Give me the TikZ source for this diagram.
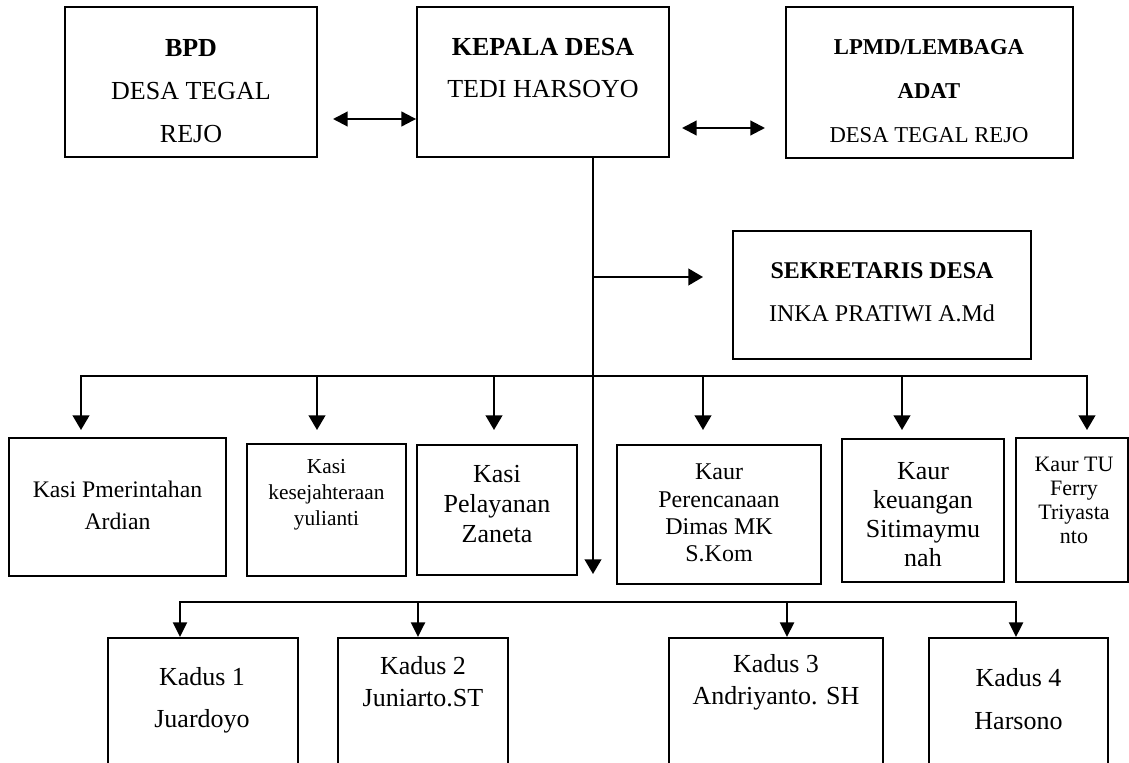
\documentclass[tikz,border=0pt]{standalone}
\usepackage{fontspec}
\setmainfont{Liberation Serif}
\usetikzlibrary{arrows.meta,fit}
\begin{document}
\begin{tikzpicture}[x=0.75pt,y=-0.75pt,
 box/.style={draw,line width=1.4pt,inner sep=0pt,rectangle},
 conn/.style={line width=1.6pt},
 bar/.style={conn,line cap=rect},
 arr/.style={conn,-{Triangle[length=11pt,width=12.5pt]}},
 sarr/.style={conn,-{Triangle[length=11pt,width=10.5pt]}},
 darr/.style={conn,{Triangle[length=11pt,width=11pt]}-{Triangle[length=11pt,width=11pt]}},
 lbl/.style={align=center,inner sep=0pt}]
\useasboundingbox (0,0) rectangle (1129,763);
\clip (0,0) rectangle (1129,763);

% top row
\node[box,fit={(65,7)(317,157)}] (bpd) {};
\node[lbl,font=\fontsize{19.5}{32}\selectfont] (bpdT) at (191,91) {\textbf{BPD}\\DESA TEGAL\\REJO};
\node[box,fit={(417,7)(669,157)}] (kep) {};
\node[lbl,font=\fontsize{19.5}{31}\selectfont] (kepT) at (543,68) {\textbf{KEPALA DESA}\\TEDI HARSOYO};
\node[box,fit={(786,7)(1073,158)}] (lpmd) {};
\node[lbl,font=\fontsize{17}{33}\selectfont] (lpmdT) at (929,91) {\textbf{LPMD/LEMBAGA}\\\textbf{ADAT}\\DESA TEGAL REJO};

% sekretaris
\node[box,fit={(733,231)(1031,359)}] (sek) {};
\node[lbl,font=\fontsize{18}{32}\selectfont] (sekT) at (882,292) {\textbf{SEKRETARIS DESA}\\INKA PRATIWI A.Md};

% middle row
\node[box,fit={(9,438)(226,576)}] (k1) {};
\node[lbl,font=\fontsize{17.8}{24}\selectfont] (k1T) at (117.5,505) {Kasi Pmerintahan\\Ardian};
\node[box,fit={(247,444)(406,576)}] (k2) {};
\node[lbl,font=\fontsize{16}{19.5}\selectfont] (k2T) at (326.5,495) {Kasi\\kesejahteraan\\yulianti};
\node[box,fit={(417,445)(577,575)}] (k3) {};
\node[lbl,font=\fontsize{19.5}{22.5}\selectfont] (k3T) at (497,504) {Kasi\\Pelayanan\\Zaneta};
\node[box,fit={(617,445)(821,584)}] (k4) {};
\node[lbl,font=\fontsize{18}{20.5}\selectfont] (k4T) at (719,513) {Kaur\\Perencanaan\\Dimas MK\\S.Kom};
\node[box,fit={(842,439)(1004,582)}] (k5) {};
\node[lbl,font=\fontsize{19.5}{21.8}\selectfont] (k5T) at (923,515) {Kaur\\keuangan\\Sitimaymu\\nah};
\node[box,fit={(1016,438)(1128,582)}] (k6) {};
\node[lbl,font=\fontsize{16.5}{18}\selectfont] (k6T) at (1074,500) {Kaur TU\\Ferry\\Triyasta\\nto};

% bottom row
\node[box,fit={(108,638)(298,780)}] (d1) {};
\node[lbl,font=\fontsize{19.5}{31.5}\selectfont] (d1T) at (202,700) {Kadus 1\\Juardoyo};
\node[box,fit={(338,638)(508,780)}] (d2) {};
\node[lbl,font=\fontsize{19.5}{24}\selectfont] (d2T) at (423,682) {Kadus 2\\Juniarto.ST};
\node[box,fit={(669,638)(883,780)}] (d3) {};
\node[lbl,font=\fontsize{19.5}{24}\selectfont] (d3T) at (776,682) {Kadus 3\\Andriyanto. SH};
\node[box,fit={(929,638)(1108,780)}] (d4) {};
\node[lbl,font=\fontsize{19.5}{32}\selectfont] (d4T) at (1018.5,699) {Kadus 4\\Harsono};

% connectors top
\coordinate (bpdA) at (333,119);
\draw[darr] (bpdA) -- (kep.west |- bpdA);
\coordinate (kl1) at (682,128);
\coordinate (kl2) at (765,128);
\draw[darr] (kl1) -- (kl2);

% central line
\coordinate (cEnd) at (593,574);
\draw[arr] (kep.south -| cEnd) -- (cEnd);
\coordinate (sekA) at (593,277);
\coordinate (sekB) at (703,277);
\draw[arr] (sekA) -- (sekB);

% middle bar
\coordinate (a1) at (81,430);
\coordinate (a2) at (317,430);
\coordinate (a3) at (494,430);
\coordinate (a4) at (703,430);
\coordinate (a5) at (902,430);
\coordinate (a6) at (1087,430);
\coordinate (barY) at (0,376);
\draw[bar] (a1 |- barY) -- (a6 |- barY);
\foreach \c in {a1,a2,a3,a4,a5,a6} \draw[arr] (\c |- barY) -- (\c);

% bottom bar
\coordinate (b1) at (180,638);
\coordinate (b2) at (418,638);
\coordinate (b3) at (787,638);
\coordinate (b4) at (1016,638);
\coordinate (bY) at (0,602);
\draw[bar] (b1 |- bY) -- (b4 |- bY);
\draw[sarr] (b1 |- bY) -- (d1.north -| b1);
\draw[sarr] (b2 |- bY) -- (d2.north -| b2);
\draw[sarr] (b3 |- bY) -- (d3.north -| b3);
\draw[sarr] (b4 |- bY) -- (d4.north -| b4);
\end{tikzpicture}
\end{document}
